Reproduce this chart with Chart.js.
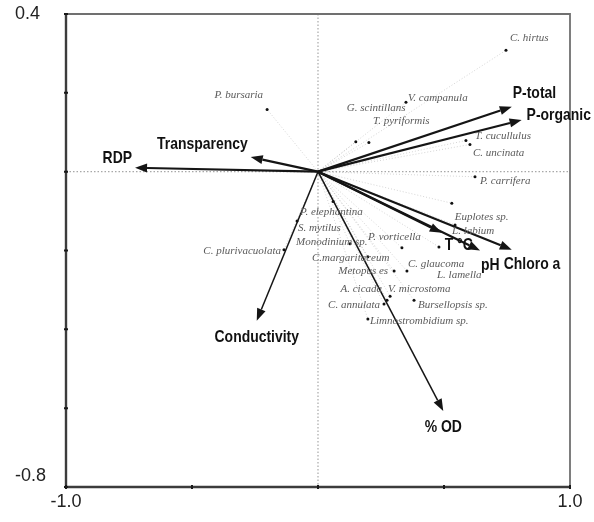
<!DOCTYPE html>
<html>
<head>
<meta charset="utf-8">
<script src="https://cdn.jsdelivr.net/npm/chart.js@4.4.1/dist/chart.umd.min.js"></script>
<style>
  html, body { margin: 0; padding: 0; background: #fff; }
  canvas { display: block; }
</style>
</head>
<body>
<canvas id="cca" width="594" height="522"></canvas>
<script>
// Species scores on CCA axes 1 and 2
const speciesNames = [
  'C. hirtus', 'P. bursaria', 'G. scintillans', 'T. pyriformis', 'V. campanula',
  'T. cucullulus', 'C. uncinata', 'P. carrifera', 'Euplotes sp.', 'L. labium',
  'L. lamella', 'P. vorticella', 'C. glaucoma', 'Metopus es', 'C.margaritaceum',
  'Monodinium sp.', 'S. mytilus', 'P. elephantina', 'C. plurivacuolata', 'A. cicada',
  'C. annulata', 'V. microstoma', 'Bursellopsis sp.', 'Limnostrombidium sp.'
];
const speciesX = [
  0.746, -0.202, 0.150, 0.202, 0.349,
  0.587, 0.603, 0.623, 0.531, 0.544,
  0.480, 0.333, 0.353, 0.302, 0.198,
  0.127, -0.083, 0.060, -0.135, 0.274,
  0.262, 0.286, 0.381, 0.198
];
const speciesY = [
  0.308, 0.158, 0.076, 0.074, 0.176,
  0.079, 0.069, -0.013, -0.080, -0.135,
  -0.191, -0.193, -0.252, -0.252, -0.216,
  -0.183, -0.125, -0.076, -0.198, -0.326,
  -0.336, -0.316, -0.326, -0.374
];

// Environmental variables (biplot arrows)
const envNames = ['RDP', 'Transparency', 'P-total', 'P-organic', 'T °C', 'pH', 'Chloro a', 'Conductivity', '% OD'];
const envX = [-0.726, -0.267, 0.769, 0.808, 0.491, 0.643, 0.769, -0.243, 0.497];
const envY = [0.010, 0.037, 0.165, 0.131, -0.155, -0.200, -0.198, -0.378, -0.607];

// Axis ticks and their labels (the bottom y label sits above its tick)
const xTickValues = [-1.0, -0.5, 0, 0.5, 1.0];
const xTickLabels = ['-1.0', '', '', '', '1.0'];
const yTickValues = [-0.8, -0.6, -0.4, -0.2, 0, 0.2, 0.4];
const yTickLabels = [['-0.8', ''], '', '', '', '', '', '0.4'];

// Label placement: pixel offset from the point and text alignment
const speciesLabelLayout = {
  'C. hirtus': [4, -12, 'left'],
  'P. bursaria': [-4, -14, 'right'],
  'G. scintillans': [-9, -34, 'left'],
  'T. pyriformis': [4, -21, 'left'],
  'V. campanula': [2, -4, 'left'],
  'T. cucullulus': [9, -4, 'left'],
  'C. uncinata': [3, 9, 'left'],
  'P. carrifera': [5, 4, 'left'],
  'Euplotes sp.': [3, 14, 'left'],
  'L. labium': [-3, 6, 'left'],
  'L. lamella': [-2, 28, 'left'],
  'P. vorticella': [-34, -11, 'left'],
  'C. glaucoma': [1, -7, 'left'],
  'Metopus es': [-6, 0, 'right'],
  'C.margaritaceum': [-56, 1, 'left'],
  'Monodinium sp.': [-54, -2, 'left'],
  'S. mytilus': [1, 7, 'left'],
  'P. elephantina': [-33, 10, 'left'],
  'C. plurivacuolata': [-3, 1, 'right'],
  'A. cicada': [-5, -11, 'right'],
  'C. annulata': [-4, 1, 'right'],
  'V. microstoma': [-2, -7, 'left'],
  'Bursellopsis sp.': [4, 5, 'left'],
  'Limnostrombidium sp.': [2, 2, 'left']
};
const envLabelLayout = {
  'RDP': [-3, -9, 'right'],
  'Transparency': [-3, -13, 'right'],
  'P-total': [1, -13, 'left'],
  'P-organic': [5, -5, 'left'],
  'T °C': [3, 13, 'left'],
  'pH': [1, 15, 'left'],
  'Chloro a': [-8, 15, 'left'],
  'Conductivity': [0, 17, 'center'],
  '% OD': [0, 16, 'center']
};

const ENV_FONT = 'bold 17px "Liberation Sans", Arial, sans-serif';
const ENV_CONDENSE = 0.82;
const SPECIES_FONT = 'italic 11px "Liberation Serif", "DejaVu Serif", serif';

function drawArrow(ctx, x0, y0, x1, y1, width) {
  const ang = Math.atan2(y1 - y0, x1 - x0);
  const headLen = 12, headHalf = 4.5;
  const bx = x1 - headLen * Math.cos(ang);
  const by = y1 - headLen * Math.sin(ang);
  ctx.beginPath();
  ctx.moveTo(x0, y0);
  ctx.lineTo(bx, by);
  ctx.lineWidth = width;
  ctx.stroke();
  ctx.beginPath();
  ctx.moveTo(x1, y1);
  ctx.lineTo(bx + headHalf * Math.sin(ang), by - headHalf * Math.cos(ang));
  ctx.lineTo(bx - headHalf * Math.sin(ang), by + headHalf * Math.cos(ang));
  ctx.closePath();
  ctx.fill();
}

// narrow bold text, squeezed horizontally
function condensedText(ctx, text, px, py, align) {
  ctx.save();
  ctx.translate(px, py);
  ctx.scale(ENV_CONDENSE, 1);
  ctx.textAlign = align;
  ctx.fillText(text, 0, 0);
  ctx.restore();
}

const biplotPlugin = {
  id: 'biplot',
  beforeDatasetsDraw(chart) {
    const { ctx, chartArea: a, scales: { x, y } } = chart;
    const ox = x.getPixelForValue(0), oy = y.getPixelForValue(0);
    ctx.save();
    // dotted zero lines
    ctx.strokeStyle = '#a8a8a8';
    ctx.lineWidth = 1.2;
    ctx.setLineDash([1.5, 2]);
    ctx.beginPath();
    ctx.moveTo(a.left, oy); ctx.lineTo(a.right, oy);
    ctx.moveTo(ox, a.top); ctx.lineTo(ox, a.bottom);
    ctx.stroke();
    // faint rays from the origin to each species
    ctx.strokeStyle = 'rgba(150,150,150,0.5)';
    ctx.lineWidth = 0.8;
    ctx.setLineDash([1, 2]);
    for (let i = 0; i < speciesNames.length; i++) {
      ctx.beginPath();
      ctx.moveTo(ox, oy);
      ctx.lineTo(x.getPixelForValue(speciesX[i]), y.getPixelForValue(speciesY[i]));
      ctx.stroke();
    }
    ctx.setLineDash([]);
    // environmental arrows
    ctx.strokeStyle = '#151515';
    ctx.fillStyle = '#151515';
    for (let i = 0; i < envNames.length; i++) {
      const w = (envNames[i] === 'Conductivity' || envNames[i] === '% OD') ? 1.5 : 2.2;
      drawArrow(ctx, ox, oy, x.getPixelForValue(envX[i]), y.getPixelForValue(envY[i]), w);
    }
    ctx.restore();
  },
  afterDraw(chart) {
    const { ctx, chartArea: a, scales: { x, y } } = chart;
    ctx.save();
    // frame: lighter top/right, darker left/bottom axes
    ctx.strokeStyle = '#707070';
    ctx.lineWidth = 1.8;
    ctx.beginPath();
    ctx.moveTo(a.left, a.top); ctx.lineTo(a.right, a.top); ctx.lineTo(a.right, a.bottom);
    ctx.stroke();
    ctx.strokeStyle = '#3c3c3c';
    ctx.lineWidth = 2.4;
    ctx.beginPath();
    ctx.moveTo(a.left, a.top); ctx.lineTo(a.left, a.bottom); ctx.lineTo(a.right, a.bottom);
    ctx.stroke();
    // tick marks crossing the axes
    ctx.strokeStyle = '#1a1a1a';
    ctx.lineWidth = 2;
    ctx.beginPath();
    yTickValues.forEach(v => {
      const py = y.getPixelForValue(v);
      ctx.moveTo(a.left - 2, py); ctx.lineTo(a.left + 2, py);
    });
    xTickValues.forEach(v => {
      const px = x.getPixelForValue(v);
      ctx.moveTo(px, a.bottom - 2); ctx.lineTo(px, a.bottom + 2);
    });
    ctx.stroke();
    // species labels
    ctx.font = SPECIES_FONT;
    ctx.fillStyle = '#5a5a5a';
    ctx.textBaseline = 'middle';
    for (let i = 0; i < speciesNames.length; i++) {
      const lay = speciesLabelLayout[speciesNames[i]];
      ctx.textAlign = lay[2];
      ctx.fillText(speciesNames[i], x.getPixelForValue(speciesX[i]) + lay[0], y.getPixelForValue(speciesY[i]) + lay[1]);
    }
    // environmental labels
    ctx.font = ENV_FONT;
    ctx.fillStyle = '#111';
    for (let i = 0; i < envNames.length; i++) {
      const lay = envLabelLayout[envNames[i]];
      condensedText(ctx, envNames[i], x.getPixelForValue(envX[i]) + lay[0], y.getPixelForValue(envY[i]) + lay[1], lay[2]);
    }
    ctx.restore();
  }
};

new Chart(document.getElementById('cca'), {
  type: 'scatter',
  data: {
    datasets: [{
      label: 'Species',
      data: speciesX.map((v, i) => ({ x: v, y: speciesY[i] })),
      pointRadius: 1.5,
      pointBackgroundColor: '#111',
      pointBorderWidth: 0
    }]
  },
  options: {
    responsive: false,
    animation: false,
    events: [],
    layout: { padding: { top: 14, right: 24, left: 15, bottom: 0 } },
    plugins: { legend: { display: false }, tooltip: { enabled: false } },
    scales: {
      x: {
        type: 'linear', min: -1, max: 1,
        afterFit: s => { s.height = 35; },
        afterBuildTicks: s => { s.ticks = xTickValues.map(v => ({ value: v })); },
        grid: { display: false, drawTicks: false },
        border: { display: false },
        ticks: {
          padding: 4,
          maxRotation: 0,
          autoSkip: false,
          color: '#222',
          font: { family: '"Liberation Sans", Arial, sans-serif', size: 18 },
          callback: (v, i) => xTickLabels[i]
        }
      },
      y: {
        type: 'linear', min: -0.8, max: 0.4,
        afterFit: s => { s.width = 51; },
        afterBuildTicks: s => { s.ticks = yTickValues.map(v => ({ value: v })); },
        grid: { display: false, drawTicks: false },
        border: { display: false },
        ticks: {
          crossAlign: 'far',
          autoSkip: false,
          color: '#222',
          font: { family: '"Liberation Sans", Arial, sans-serif', size: 18 },
          callback: (v, i) => yTickLabels[i]
        }
      }
    }
  },
  plugins: [biplotPlugin]
});
</script>
</body>
</html>
